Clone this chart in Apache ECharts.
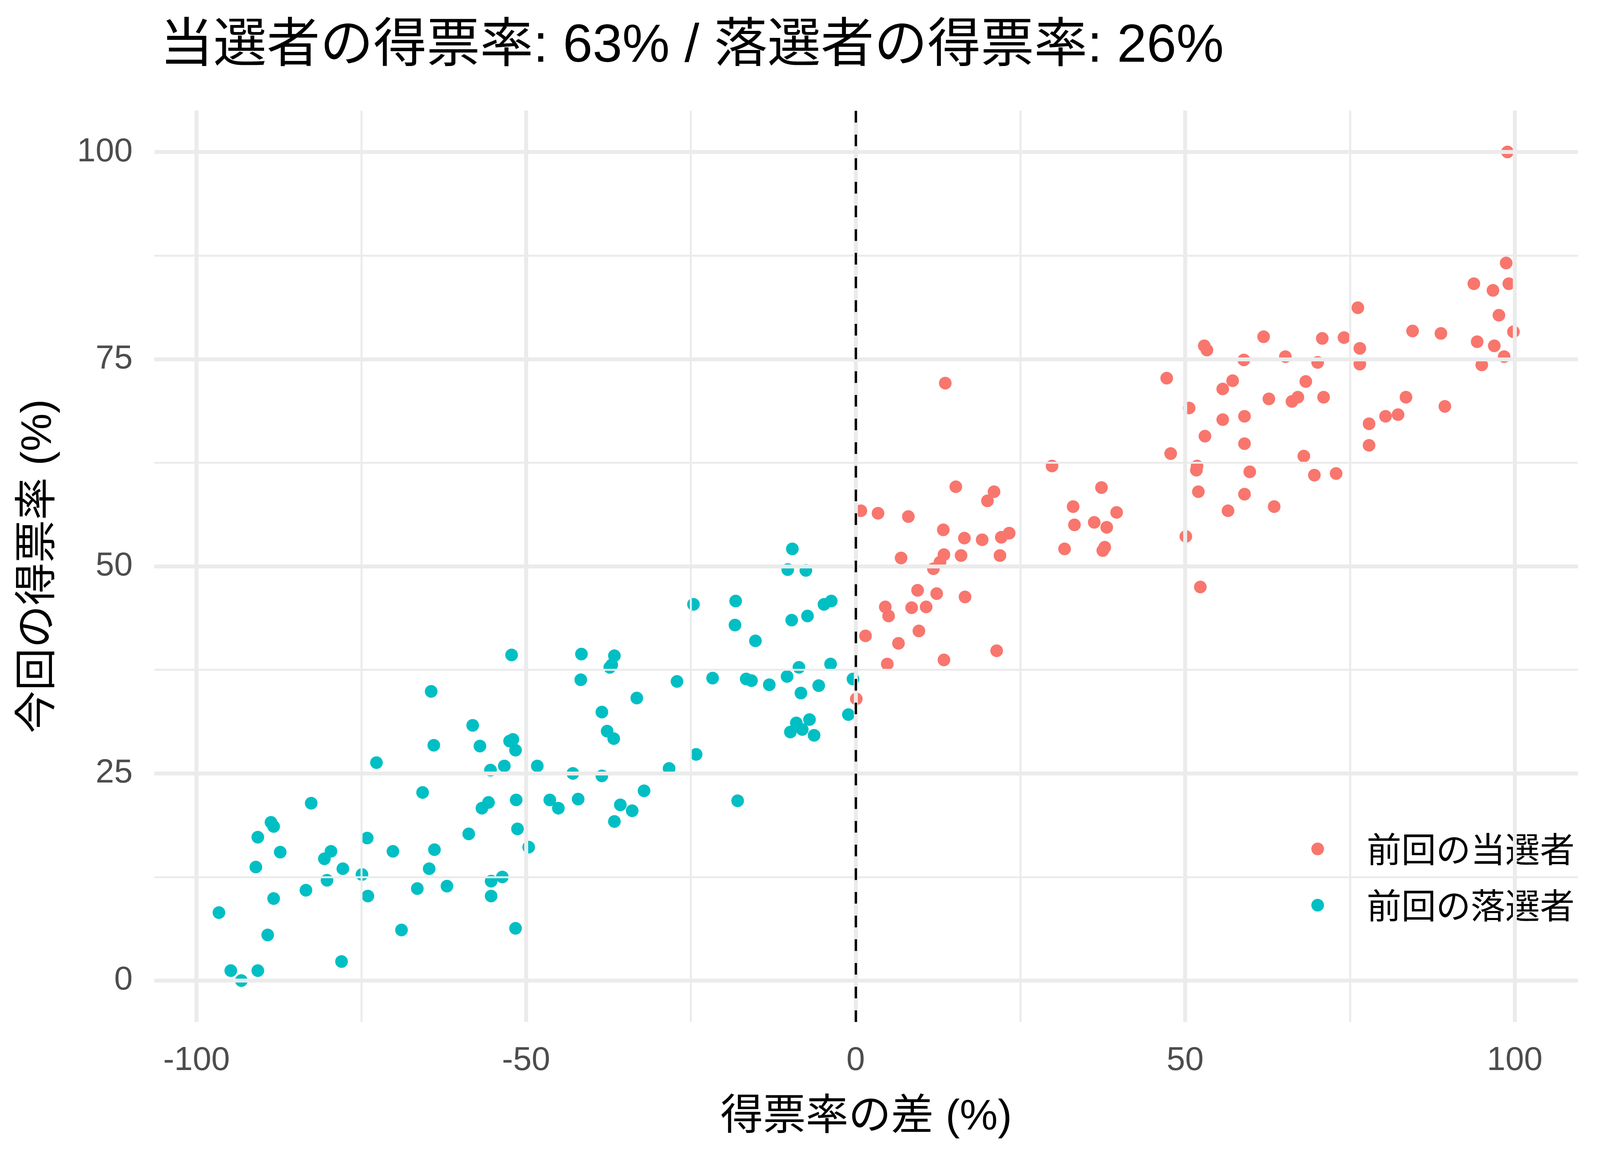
<!DOCTYPE html>
<html>
<head>
<meta charset="utf-8">
<script src="https://cdn.jsdelivr.net/npm/echarts@6/dist/echarts.min.js"></script>
<style>
  html, body { margin: 0; padding: 0; background: #fff; overflow: hidden; }
  #chart { width: 100vw; height: 100vh; }
</style>
</head>
<body>
<div id="chart"></div>
<script>
// 前回の当選者: 得票率の差 / 今回の得票率
let winnerDiff = [
    0.1, 0.8, 1.5, 3.4, 4.5, 4.8, 5.0, 6.5, 6.9, 8.0,
    8.5, 9.4, 9.6, 10.7, 11.8, 12.3, 12.8, 13.3, 13.4, 13.4,
    13.6, 15.2, 16.0, 16.5, 16.6, 19.2, 20.0, 21.0, 21.4, 21.9,
    22.1, 23.3, 29.8, 31.7, 33.0, 33.2, 36.2, 37.3, 37.5, 37.8,
    38.1, 39.6,
    98.9, 98.7, 93.8, 96.7, 99.1, 97.6, 76.2, 84.5, 88.8, 99.8,
    94.3, 96.9, 98.4, 95.0, 61.9, 70.8, 74.1, 76.5, 76.5, 52.9,
    53.3, 58.9, 65.2, 70.1, 47.2, 57.2, 55.7, 68.3, 50.6, 62.7,
    66.2, 67.1, 71.0, 83.5, 89.4, 55.7, 59.0, 77.9, 80.4, 82.3,
    53.0, 59.0, 77.9, 47.8, 51.8, 51.7, 68.0, 59.8, 69.6, 72.9,
    52.0, 59.0, 56.5, 63.5, 50.1, 52.3
];
let winnerShare = [
    34.0, 56.7, 41.6, 56.4, 45.1, 38.2, 44.0, 40.7, 51.0, 56.0,
    45.0, 47.1, 42.2, 45.1, 49.7, 46.7, 50.5, 54.4, 51.4, 38.7,
    72.1, 59.6, 51.3, 53.4, 46.3, 53.2, 57.9, 59.0, 39.8, 51.3,
    53.5, 54.0, 62.1, 52.1, 57.2, 55.0, 55.3, 59.5, 51.9, 52.3,
    54.7, 56.5,
    100.0, 86.6, 84.1, 83.3, 84.1, 80.3, 81.2, 78.4, 78.1, 78.3,
    77.1, 76.6, 75.3, 74.3, 77.7, 77.5, 77.6, 76.3, 74.4, 76.6,
    76.1, 74.9, 75.3, 74.6, 72.7, 72.4, 71.4, 72.3, 69.1, 70.2,
    69.9, 70.4, 70.4, 70.4, 69.3, 67.7, 68.1, 67.2, 68.1, 68.3,
    65.7, 64.8, 64.6, 63.6, 62.1, 61.6, 63.3, 61.4, 61.0, 61.2,
    59.0, 58.7, 56.7, 57.2, 53.6, 47.5
];

// 前回の落選者
let loserDiff = [
    -96.6, -94.8, -93.2, -90.7, -91.0, -90.7, -89.2, -88.7, -88.3, -88.3,
    -87.3, -83.4, -82.6, -80.6, -80.2, -79.6, -78.0, -77.8, -74.9, -74.0,
    -74.1, -72.7, -70.2, -68.9, -66.5, -65.7, -64.7, -64.4, -64.0, -63.9,
    -62.0, -58.7, -58.1, -57.0, -56.7, -55.7, -55.4, -55.3, -55.3, -53.6,
    -53.3, -52.5, -52.0, -52.2, -51.6, -51.5, -51.6, -51.3, -49.6, -48.3,
    -46.4, -45.1, -42.9, -42.1, -41.6, -41.7, -38.5, -38.5, -37.7, -37.3,
    -37.0, -36.6, -36.7, -36.6, -35.7, -33.9, -33.2, -32.1, -28.3, -27.1,
    -24.6, -24.2, -21.7, -18.2, -18.3, -17.9, -16.6, -15.8, -15.2, -13.1,
    -10.3, -10.4, -9.9, -9.6, -9.7, -9.0, -8.6, -8.3, -8.1, -7.55,
    -7.3, -7.0, -6.3, -5.6, -4.8, -3.8, -3.7, -1.1, -0.4
];
let loserShare = [
    8.2, 1.2, 0.0, 1.2, 13.7, 17.3, 5.5, 19.1, 18.6, 9.9,
    15.5, 10.9, 21.4, 14.7, 12.1, 15.6, 2.3, 13.5, 12.8, 10.2,
    17.2, 26.3, 15.6, 6.1, 11.1, 22.7, 13.5, 34.9, 28.4, 15.8,
    11.4, 17.7, 30.8, 28.3, 20.8, 21.5, 25.4, 12.0, 10.2, 12.5,
    25.9, 28.9, 29.1, 39.3, 27.8, 21.8, 6.3, 18.3, 16.1, 25.9,
    21.8, 20.8, 25.0, 21.9, 39.4, 36.3, 32.4, 24.7, 30.1, 37.8,
    38.1, 39.2, 29.2, 19.2, 21.2, 20.5, 34.1, 22.9, 25.6, 36.1,
    45.4, 27.3, 36.5, 45.8, 42.9, 21.7, 36.4, 36.2, 41.0, 35.7,
    49.6, 36.7, 30.0, 52.1, 43.5, 31.1, 37.8, 34.7, 30.3, 49.5,
    44.0, 31.5, 29.6, 35.6, 45.4, 38.2, 45.8, 32.1, 36.4
];

let xTicks = [-100, -50, 0, 50, 100];
let yTicks = [0, 25, 50, 75, 100];
let xMinor = [-75, -25, 25, 75];
let yMinor = [12.5, 37.5, 62.5, 87.5];

let seriesNames = ['前回の当選者', '前回の落選者'];
let titleText = '当選者の得票率: 63% / 落選者の得票率: 26%';

function zip(xs, ys) {
    return xs.map(function (x, i) { return [x, ys[i]]; });
}

// layout was measured on a 4800x3000 canvas; scale to whatever the window is
let W = window.innerWidth || 4800;
let H = window.innerHeight || 3000;
let sx = W / 4800, sy = H / 3000, s = Math.min(sx, sy);
function px(v) { return v * sx; }
function py(v) { return v * sy; }
function ps(v) { return v * s; }

let fontMix = "'Liberation Sans', 'Noto Sans CJK JP', sans-serif";
let gridMajor = {color: '#EBEBEB', width: ps(12), type: 'solid'};
let gridMinor = {color: '#EBEBEB', width: ps(6), type: 'solid'};

let gridLines = [];
xMinor.forEach(function (v) { gridLines.push({xAxis: v, lineStyle: gridMinor}); });
yMinor.forEach(function (v) { gridLines.push({yAxis: v, lineStyle: gridMinor}); });
xTicks.forEach(function (v) { gridLines.push({xAxis: v, lineStyle: gridMajor}); });
yTicks.forEach(function (v) { gridLines.push({yAxis: v, lineStyle: gridMajor}); });

let myChart = echarts.init(document.getElementById('chart'), null, {renderer: 'canvas'});

let option = {
    backgroundColor: '#ffffff',
    animation: false,
    title: {
        text: titleText,
        left: px(480),
        top: py(120) - ps(80),
        padding: 0,
        textStyle: {
            fontFamily: fontMix,
            fontSize: ps(160),
            lineHeight: ps(160),
            fontWeight: 'normal',
            color: '#000000'
        }
    },
    legend: {
        data: seriesNames,
        orient: 'vertical',
        left: px(3953) - ps(19),
        top: py(2173) - ps(52),
        padding: 0,
        itemWidth: ps(38),
        itemHeight: ps(38),
        itemGap: py(144) - ps(104),
        icon: 'circle',
        textStyle: {
            fontFamily: "'Noto Sans CJK JP', sans-serif",
            fontSize: ps(104),
            lineHeight: ps(104),
            color: '#000000',
            padding: [0, 0, 0, px(4100) - px(3953) - ps(19) - 5]
        }
    },
    grid: {
        left: px(463),
        right: px(66),
        top: py(283),
        bottom: py(384),
        containLabel: false
    },
    xAxis: {
        type: 'value',
        min: -106.4,
        max: 109.6,
        name: '得票率の差 (%)',
        nameLocation: 'middle',
        nameGap: py(2861) - py(2616) - ps(64),
        nameTextStyle: {
            fontFamily: fontMix,
            fontSize: ps(128),
            lineHeight: ps(128),
            color: '#000000'
        },
        axisLine: {show: false, onZero: false},
        axisTick: {show: false},
        splitLine: {show: false},
        axisLabel: {
            customValues: xTicks,
            margin: py(2715) - py(2616) - ps(50),
            fontFamily: fontMix,
            fontSize: ps(100),
            lineHeight: ps(100),
            color: '#4D4D4D'
        }
    },
    yAxis: {
        type: 'value',
        min: -5,
        max: 105,
        name: '今回の得票率 (%)',
        nameLocation: 'middle',
        nameGap: px(463) - px(117) - ps(64),
        nameTextStyle: {
            fontFamily: fontMix,
            fontSize: ps(128),
            lineHeight: ps(128),
            color: '#000000'
        },
        axisLine: {show: false, onZero: false},
        axisTick: {show: false},
        splitLine: {show: false},
        axisLabel: {
            customValues: yTicks,
            margin: px(65),
            fontFamily: fontMix,
            fontSize: ps(100),
            lineHeight: ps(100),
            color: '#4D4D4D'
        }
    },
    series: [
        {
            name: 'grid',
            type: 'scatter',
            data: [],
            z: 0,
            silent: true,
            markLine: {
                silent: true,
                symbol: ['none', 'none'],
                label: {show: false},
                animation: false,
                data: gridLines
            }
        },
        {
            name: seriesNames[0],
            type: 'scatter',
            z: 2,
            symbol: 'circle',
            symbolSize: ps(38),
            itemStyle: {color: '#F8766D', opacity: 1},
            data: zip(winnerDiff, winnerShare)
        },
        {
            name: seriesNames[1],
            type: 'scatter',
            z: 2,
            symbol: 'circle',
            symbolSize: ps(38),
            itemStyle: {color: '#00BFC4', opacity: 1},
            data: zip(loserDiff, loserShare)
        },
        {
            name: 'vline',
            type: 'scatter',
            data: [],
            z: 5,
            silent: true,
            markLine: {
                silent: true,
                symbol: ['none', 'none'],
                label: {show: false},
                animation: false,
                lineStyle: {color: '#000000', width: ps(7), type: [ps(35), ps(36)]},
                data: [{xAxis: 0}]
            }
        }
    ]
};

myChart.setOption(option);
window.addEventListener('resize', function () { myChart.resize(); });
</script>
</body>
</html>
